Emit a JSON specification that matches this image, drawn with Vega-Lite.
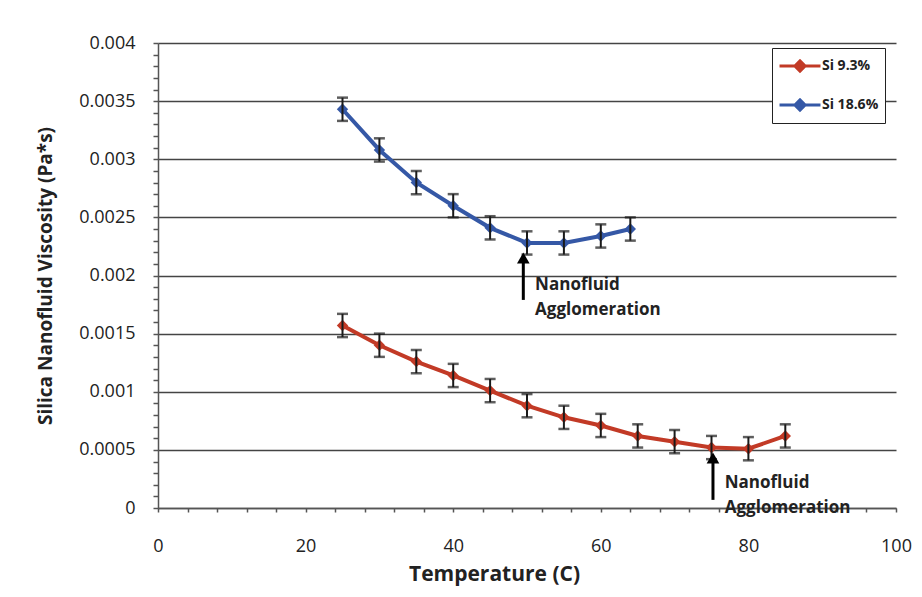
{
  "$schema": "https://vega.github.io/schema/vega-lite/v6.json",
  "autosize": "none",
  "width": 738,
  "height": 465,
  "padding": {"left": 158, "top": 43, "right": 26, "bottom": 89},
  "background": "white",
  "config": {
    "font": "Open Sans",
    "view": {"stroke": null}
  },
  "datasets": {
    "visc": [
      {"series": "Si 18.6%", "t": 25, "v": 0.00343, "err": 0.0001},
      {"series": "Si 18.6%", "t": 30, "v": 0.00308, "err": 0.0001},
      {"series": "Si 18.6%", "t": 35, "v": 0.0028, "err": 0.0001},
      {"series": "Si 18.6%", "t": 40, "v": 0.0026, "err": 0.0001},
      {"series": "Si 18.6%", "t": 45, "v": 0.00241, "err": 0.0001},
      {"series": "Si 18.6%", "t": 50, "v": 0.00228, "err": 0.0001},
      {"series": "Si 18.6%", "t": 55, "v": 0.00228, "err": 0.0001},
      {"series": "Si 18.6%", "t": 60, "v": 0.00234, "err": 0.0001},
      {"series": "Si 18.6%", "t": 64, "v": 0.0024, "err": 0.0001},
      {"series": "Si 9.3%", "t": 25, "v": 0.00157, "err": 0.0001},
      {"series": "Si 9.3%", "t": 30, "v": 0.0014, "err": 0.0001},
      {"series": "Si 9.3%", "t": 35, "v": 0.00126, "err": 0.0001},
      {"series": "Si 9.3%", "t": 40, "v": 0.00114, "err": 0.0001},
      {"series": "Si 9.3%", "t": 45, "v": 0.00101, "err": 0.0001},
      {"series": "Si 9.3%", "t": 50, "v": 0.00088, "err": 0.0001},
      {"series": "Si 9.3%", "t": 55, "v": 0.00078, "err": 0.0001},
      {"series": "Si 9.3%", "t": 60, "v": 0.00071, "err": 0.0001},
      {"series": "Si 9.3%", "t": 65, "v": 0.00062, "err": 0.0001},
      {"series": "Si 9.3%", "t": 70, "v": 0.00057, "err": 0.0001},
      {"series": "Si 9.3%", "t": 75, "v": 0.00052, "err": 0.0001},
      {"series": "Si 9.3%", "t": 80, "v": 0.00051, "err": 0.0001},
      {"series": "Si 9.3%", "t": 85, "v": 0.00062, "err": 0.0001}
    ],
    "arrows": [
      {"t": 49.5, "base": 0.00179, "tip": 0.00212, "head": 0.00215},
      {"t": 75.2, "base": 0.00007, "tip": 0.0004, "head": 0.00043}
    ],
    "notes": [
      {"t": 51.1, "v": 0.00192, "label": "Nanofluid"},
      {"t": 51.1, "v": 0.0017, "label": "Agglomeration"},
      {"t": 76.8, "v": 0.000215, "label": "Nanofluid"},
      {"t": 76.8, "v": 0.0, "label": "Agglomeration"}
    ]
  },
  "encoding": {
    "x": {
      "field": "t",
      "type": "quantitative",
      "scale": {"domain": [0, 100], "nice": false},
      "axis": {
        "title": "Temperature (C)",
        "values": [0,4,8,12,16,20,24,28,32,36,40,44,48,52,56,60,64,68,72,76,80,84,88,92,96,100],
        "labelExpr": "datum.value % 20 == 0 ? datum.label : ''",
        "grid": false,
        "domainColor": "#555",
        "domainWidth": 1.5,
        "tickColor": "#555",
        "tickWidth": 1.5,
        "tickSize": 4,
        "labelPadding": 25,
        "labelFontSize": 18,
        "labelColor": "#222",
        "labelFlush": false,
        "titleFontSize": 21,
        "titleFontWeight": "bold",
        "titleColor": "#222",
        "titlePadding": 8,
        "titleX": 336
      }
    },
    "y": {
      "field": "v",
      "type": "quantitative",
      "scale": {"domain": [0, 0.004], "nice": false},
      "axis": {
        "title": "Silica Nanofluid Viscosity (Pa*s)",
        "values": [0,0.0001,0.0002,0.0003,0.0004,0.0005,0.0006,0.0007,0.0008,0.0009,0.001,0.0011,0.0012,0.0013,0.0014,0.0015,0.0016,0.0017,0.0018,0.0019,0.002,0.0021,0.0022,0.0023,0.0024,0.0025,0.0026,0.0027,0.0028,0.0029,0.003,0.0031,0.0032,0.0033,0.0034,0.0035,0.0036,0.0037,0.0038,0.0039,0.004],
        "labelExpr": "round(datum.value*10000) % 5 == 0 ? format(datum.value, '~g') : ''",
        "grid": true,
        "gridColor": "#444",
        "gridWidth": 1.5,
        "gridOpacity": {"condition": {"test": "round(datum.value*10000) % 5 == 0", "value": 1}, "value": 0},
        "domainColor": "#555",
        "domainWidth": 1.5,
        "tickColor": "#555",
        "tickWidth": 1.5,
        "tickSize": 5,
        "labelPadding": 18,
        "labelFontSize": 18,
        "labelColor": "#222",
        "labelFlush": false,
        "titleFontSize": 19,
        "titleFontWeight": "bold",
        "titleColor": "#222",
        "titleX": -103
      }
    }
  },
  "layer": [
    {
      "data": {"name": "visc"},
      "mark": {"type": "line", "strokeWidth": 4, "point": {"shape": "diamond", "size": 130, "filled": true}},
      "encoding": {
        "color": {
          "field": "series",
          "type": "nominal",
          "scale": {"domain": ["Si 9.3%", "Si 18.6%"], "range": ["#C23A26", "#3558A6"]},
          "legend": {
            "title": null,
            "orient": "none",
            "legendX": 614,
            "legendY": 5,
            "fillColor": "white",
            "strokeColor": "#222",
            "padding": 6,
            "symbolType": "M-2,0H2M-0.5,0L0,-0.5L0.5,0L0,0.5Z",
            "symbolSize": 420,
            "symbolStrokeWidth": 3,
            "symbolOffset": 10,
            "labelOffset": 10,
            "labelFontSize": 14,
            "labelFontWeight": "bold",
            "labelColor": "#222",
            "rowPadding": 15
          }
        }
      }
    },
    {
      "data": {"name": "visc"},
      "mark": {"type": "errorbar", "color": "#1a1a1a", "thickness": 2, "ticks": {"size": 11, "thickness": 2.5}},
      "encoding": {
        "y": {"field": "v", "type": "quantitative"},
        "yError": {"field": "err"},
        "detail": {"field": "series", "type": "nominal"}
      }
    },
    {
      "data": {"name": "arrows"},
      "mark": {"type": "rule", "color": "#000", "strokeWidth": 3},
      "encoding": {
        "y": {"field": "base", "type": "quantitative"},
        "y2": {"field": "tip"}
      }
    },
    {
      "data": {"name": "arrows"},
      "mark": {"type": "point", "shape": "triangle-up", "size": 160, "filled": true, "color": "#000", "opacity": 1},
      "encoding": {
        "y": {"field": "head", "type": "quantitative"}
      }
    },
    {
      "data": {"name": "notes"},
      "mark": {"type": "text", "align": "left", "baseline": "middle", "fontSize": 17, "fontWeight": "bold", "color": "#222"},
      "encoding": {
        "text": {"field": "label"}
      }
    }
  ]
}
